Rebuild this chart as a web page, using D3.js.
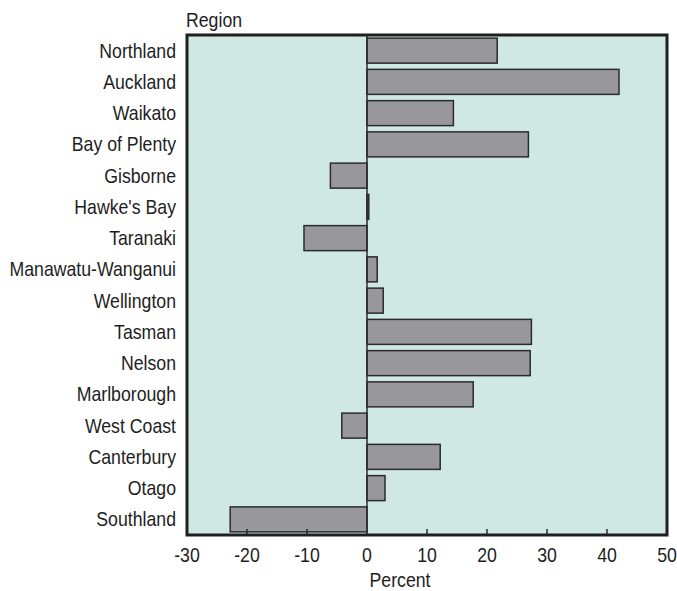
<!DOCTYPE html>
<html>
<head>
<meta charset="utf-8">
<script src="https://cdn.jsdelivr.net/npm/d3@7"></script>
<style>
  html, body { margin: 0; padding: 0; background: #ffffff; }
  svg text { font-family: "Liberation Sans", Arial, sans-serif; fill: #1e1e1e; font-size: 20px; }
</style>
</head>
<body>
<svg id="chart" width="677" height="591"></svg>
<script>
// Population change by region, percent
const regions = ["Northland", "Auckland", "Waikato", "Bay of Plenty", "Gisborne", "Hawke's Bay",
  "Taranaki", "Manawatu-Wanganui", "Wellington", "Tasman", "Nelson", "Marlborough",
  "West Coast", "Canterbury", "Otago", "Southland"];
const percentChange = [21.7, 42.0, 14.4, 26.9, -6.1, 0.3, -10.5, 1.7, 2.7, 27.4, 27.2, 17.7,
  -4.2, 12.2, 3.0, -22.8];
const xTicks = [-30, -20, -10, 0, 10, 20, 30, 40, 50];

const svg = d3.select("#chart");
const margin = { top: 35, left: 187 };
const plotW = 480, plotH = 500;
const narrow = 0.885; // horizontal squeeze for a condensed look

const x = d3.scaleLinear().domain([-30, 50]).range([0, plotW]);
const y = d3.scaleBand().domain(regions).range([0, plotH]).paddingInner(0.2).paddingOuter(0.1);

const g = svg.append("g").attr("transform", `translate(${margin.left},${margin.top})`);

// plot background
g.append("rect")
  .attr("width", plotW).attr("height", plotH)
  .attr("fill", "#cfe8e4");

// bars
g.selectAll("rect.bar")
  .data(regions)
  .join("rect")
  .attr("class", "bar")
  .attr("x", (d, i) => x(Math.min(0, percentChange[i])))
  .attr("y", d => y(d))
  .attr("width", (d, i) => Math.abs(x(percentChange[i]) - x(0)))
  .attr("height", y.bandwidth())
  .attr("fill", "#98989c")
  .attr("stroke", "#2b2b2b")
  .attr("stroke-width", 1.5);

// zero line
g.append("line")
  .attr("x1", x(0)).attr("x2", x(0))
  .attr("y1", 0).attr("y2", plotH)
  .attr("stroke", "#2b2b2b").attr("stroke-width", 1.5);

// inner tick marks along the bottom
g.selectAll("line.tick")
  .data(xTicks.filter(t => t !== -30 && t !== 0 && t !== 50))
  .join("line")
  .attr("class", "tick")
  .attr("x1", d => x(d)).attr("x2", d => x(d))
  .attr("y1", plotH).attr("y2", plotH - 6)
  .attr("stroke", "#2b2b2b").attr("stroke-width", 1.5);

// frame
g.append("rect")
  .attr("width", plotW).attr("height", plotH)
  .attr("fill", "none")
  .attr("stroke", "#1f1f1f").attr("stroke-width", 3);

// x tick labels
g.selectAll("text.xlab")
  .data(xTicks)
  .join("text")
  .attr("class", "xlab")
  .attr("transform", d => `translate(${x(d)},${plotH + 27}) scale(${narrow},1)`)
  .attr("text-anchor", "middle")
  .text(d => d);

// category labels
g.selectAll("text.ylab")
  .data(regions)
  .join("text")
  .attr("class", "ylab")
  .attr("transform", d => `translate(-11,${y(d) + y.bandwidth() / 2}) scale(${narrow},1)`)
  .attr("dy", "0.35em")
  .attr("text-anchor", "end")
  .text(d => d);

// axis titles
svg.append("text")
  .attr("transform", `translate(186,27) scale(${narrow},1)`)
  .text("Region");

svg.append("text")
  .attr("transform", `translate(${margin.left + x(0) + 33},587) scale(${narrow},1)`)
  .attr("text-anchor", "middle")
  .text("Percent");
</script>
</body>
</html>
